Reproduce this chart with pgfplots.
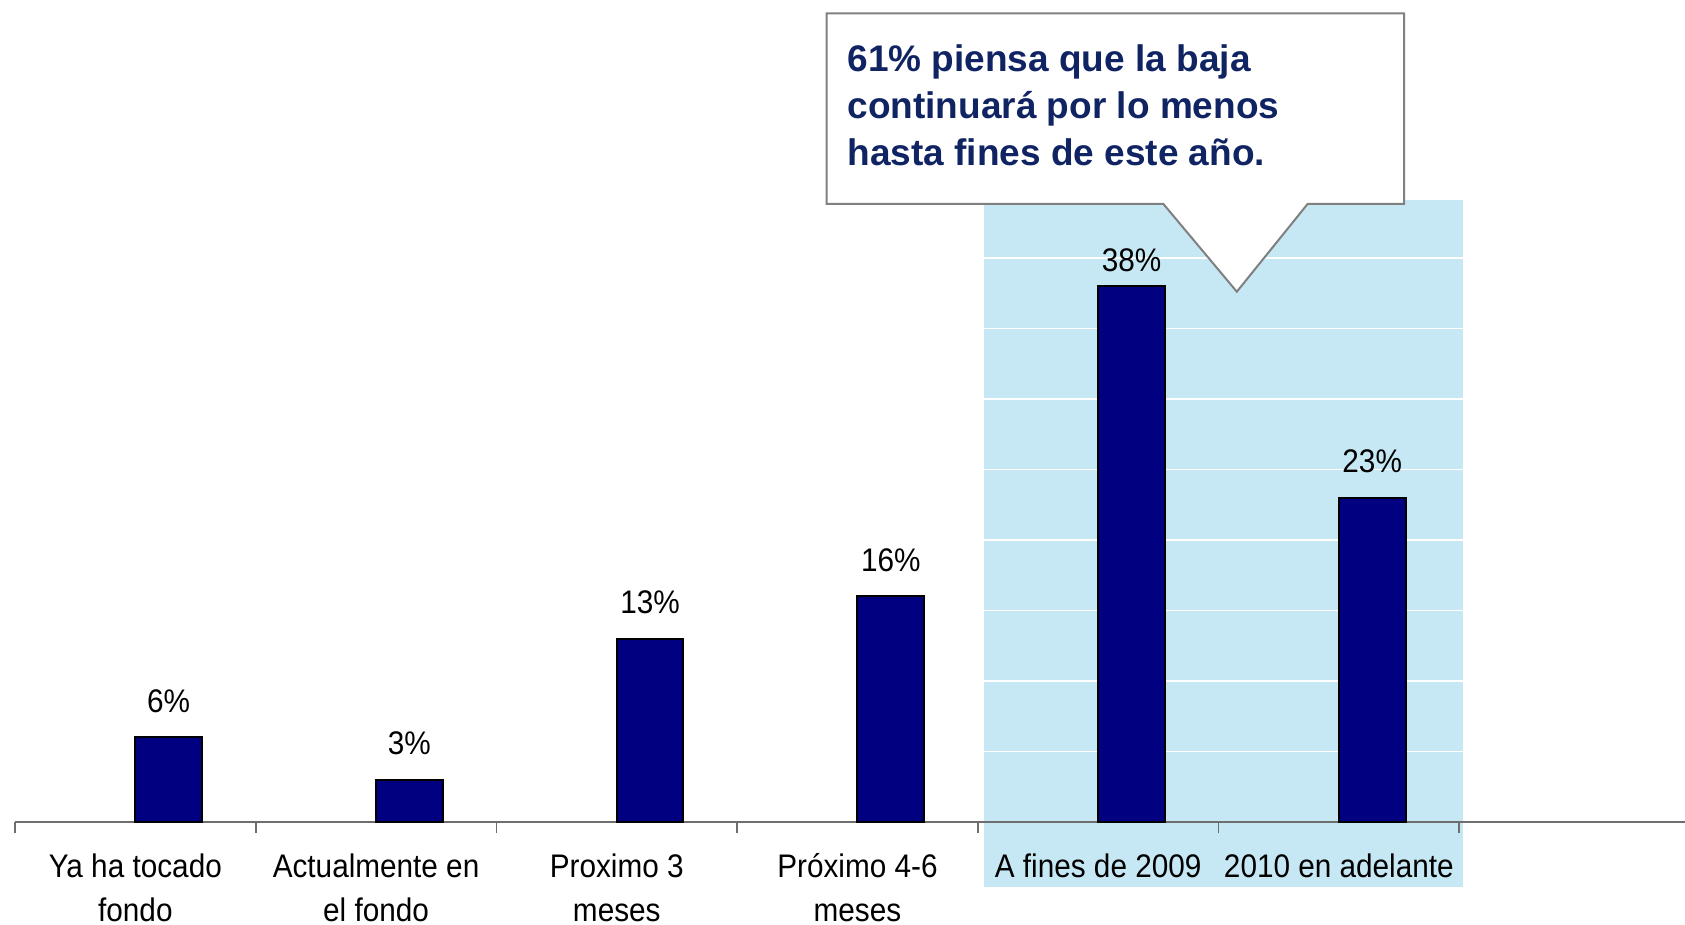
\documentclass[border=0pt]{standalone}
\usepackage{pgfplots}
\pgfplotsset{compat=1.18}
\usepackage{fontspec}
\setmainfont{Liberation Sans}
\newfontfamily\chartfont[FakeStretch=0.91]{Liberation Sans}
\newfontfamily\calloutfont{Liberation Sans}
\definecolor{barnavy}{RGB}{0,0,128}
\definecolor{lightpanel}{RGB}{198,232,244}
\definecolor{calltext}{RGB}{16,36,100}
\definecolor{axisgray}{RGB}{110,110,110}
\definecolor{boxgray}{RGB}{128,128,128}
\pgfplotstableread{
x y off
0 6 7.5
1 3 7.5
2 13 7.5
3 16 7.5
4 38 4.3
5 23 7.5
}\bardata
\begin{document}
\begin{tikzpicture}
\begin{axis}[
  at={(4.5pt,30.9pt)}, anchor=south west,
  scale only axis,
  width=501pt, height=190.35pt,
  xmin=-0.5, xmax=6.438,
  ymin=0, ymax=45,
  set layers,
  clip=false,
  axis x line*=bottom,
  axis y line=none,
  x axis line style={draw=axisgray, line width=0.5pt, -},
  xtick={0,1,2,3,4,5},
  xticklabels={{Ya ha tocado\\fondo},{Actualmente en\\el fondo},{Proximo 3\\meses},{Próximo 4-6\\meses},{A fines de 2009\\\mbox{}},{2010 en adelante\\\mbox{}}},
  major tick length=0pt,
  minor xtick={-0.5,0.5,1.5,2.5,3.5,4.5,5.5},
  minor tick length=3.2pt,
  xtick align=outside,
  every tick/.style={draw=axisgray, line width=0.5pt},
  xticklabel style={font=\chartfont\fontsize{9.8}{13.1}\selectfont, align=center, anchor=base, yshift=-29.9pt, inner sep=0pt},
  ytick=\empty,
  /pgf/number format/assume math mode=true,
  ybar,
  nodes near coords={\pgfmathprintnumber{\pgfplotspointmeta}\%},
  nodes near coords style={font=\chartfont\fontsize{9.8}{11.7}\selectfont, anchor=base, yshift=\laboff pt, inner sep=0pt, text=black},
]
\begin{pgfonlayer}{axis background}
\fill[lightpanel] (axis cs:3.526,-4.63) rectangle (axis cs:5.517,44.11);
\pgfplotsinvokeforeach{5,10,15,20,25,30,35,40}{
  \draw[white, line width=0.5pt] (axis cs:3.526,#1) -- (axis cs:5.517,#1);
}
\end{pgfonlayer}
\addplot[fill=barnavy, draw=black, line width=0.6pt, bar width=20pt, bar shift=10pt,
  visualization depends on={\thisrow{off}\as\laboff}]
  table[x=x, y=y] {\bardata};
\draw[boxgray, line width=0.6pt, fill=white]
  (axis cs:2.872,57.35) -- (axis cs:5.271,57.35) -- (axis cs:5.271,43.83)
  -- (axis cs:4.870,43.83) -- (axis cs:4.576,37.61) -- (axis cs:4.271,43.83)
  -- (axis cs:2.872,43.83) -- cycle;
\node[anchor=base west, align=left, inner sep=0pt,
      font=\calloutfont\bfseries\fontsize{11.1}{14}\selectfont, text=calltext]
  at (axis cs:2.956,46.59) {61\% piensa que la baja\\continuará por lo menos\\hasta fines de este año.};
\end{axis}
\pgfresetboundingbox
\path[use as bounding box] (0,0) rectangle (505.5pt,277.5pt);
\end{tikzpicture}
\end{document}
